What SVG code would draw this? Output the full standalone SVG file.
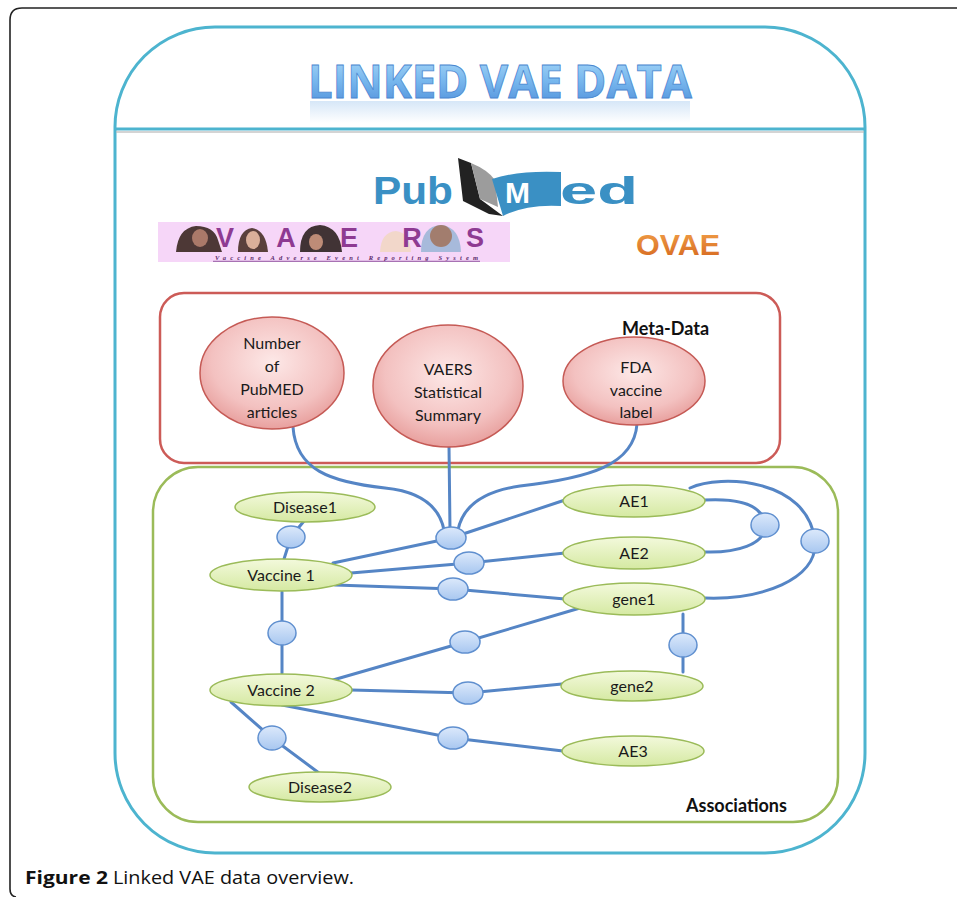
<svg xmlns="http://www.w3.org/2000/svg" width="957" height="897" viewBox="0 0 957 897">
<style>
.conn{fill:none;stroke:#5585c5;stroke-width:3;stroke-linecap:round;stroke-linejoin:round}
.hub{fill:url(#gBlue);stroke:#5f8fcf;stroke-width:1.5}
.green{fill:url(#gGreen);stroke:#9bbb59;stroke-width:1.5}
.pink{fill:url(#gPink);stroke:#c55a55;stroke-width:1.5}
.lbl{font-family:Lato,"Open Sans","Liberation Sans",sans-serif;font-size:16px;fill:#1a1a1a;text-anchor:middle}
.hdr{font-family:Lato,"Open Sans","Liberation Sans",sans-serif;font-size:18px;font-weight:bold;fill:#111}
.photo{opacity:0.9}
</style>
<defs>
<linearGradient id="gTitle" x1="0" y1="0" x2="0" y2="1">
<stop offset="0" stop-color="#b5e0fa"/><stop offset="0.5" stop-color="#78b8ee"/><stop offset="1" stop-color="#4a8ad8"/>
</linearGradient>
<linearGradient id="gRefl" x1="0" y1="0" x2="0" y2="1">
<stop offset="0" stop-color="#6aa6e4" stop-opacity="0.55"/><stop offset="1" stop-color="#6aa6e4" stop-opacity="0"/>
</linearGradient>
<radialGradient id="gPink" cx="0.5" cy="0.4" r="0.6">
<stop offset="0" stop-color="#fde8e7"/><stop offset="0.7" stop-color="#f3c1c0"/><stop offset="1" stop-color="#e8a09e"/>
</radialGradient>
<linearGradient id="gGreen" x1="0" y1="0" x2="0" y2="1">
<stop offset="0" stop-color="#f3f9dc"/><stop offset="1" stop-color="#d5e9a2"/>
</linearGradient>
<linearGradient id="gBlue" x1="0" y1="0" x2="0" y2="1">
<stop offset="0" stop-color="#dce9fb"/><stop offset="1" stop-color="#a8c7f0"/>
</linearGradient>
<linearGradient id="gOrange" x1="0" y1="0" x2="0" y2="1">
<stop offset="0" stop-color="#f3a24a"/><stop offset="1" stop-color="#d4661e"/>
</linearGradient>
</defs>

<g id="frame">
<path d="M957 8 H22 Q10 8 10 20 V889 Q10 896 16 897" fill="none" stroke="#222" stroke-width="1.6"/>
</g>

<g id="outer">
<rect x="115" y="27" width="750" height="826" rx="100" ry="100" fill="#fff" stroke="#4db4cf" stroke-width="3"/>
<line x1="116" y1="132" x2="864" y2="132" stroke="#b8b8b8" stroke-width="2" opacity="0.6"/>
<line x1="116" y1="129" x2="864" y2="129" stroke="#4db4cf" stroke-width="3"/>
</g>

<g id="title">
<rect x="310" y="101" width="380" height="22" fill="url(#gRefl)" opacity="0.5"/>
<text x="308" y="98" textLength="384" lengthAdjust="spacingAndGlyphs" font-family="'Open Sans',Lato,sans-serif" font-weight="bold" font-size="46" fill="url(#gTitle)" stroke="#4a86d0" stroke-width="0.8">LINKED VAE DATA</text>
</g>

<g id="pubmed">
<text x="373" y="204" textLength="80" lengthAdjust="spacingAndGlyphs" font-family="'Liberation Sans',Arial,sans-serif" font-weight="bold" font-size="38" fill="#3a90c4">Pub</text>
<path d="M458 158 L471 163 L480 199 L503 216 L489 214 L463 201 Z" fill="#222"/>
<path d="M471 163 Q488 170 495 180 L498 207 L480 199 Z" fill="#9c9c9c"/>
<path d="M492 179 Q520 170 561 172 L561 206 Q526 204 503 216 Z" fill="#3a90c4"/>
<text x="505" y="203" font-family="'Liberation Sans',Arial,sans-serif" font-weight="bold" font-size="30" fill="#fff">M</text>
<text x="560" y="204" textLength="78" lengthAdjust="spacingAndGlyphs" font-family="'Liberation Sans',Arial,sans-serif" font-weight="bold" font-size="38" fill="#3a90c4">ed</text>
</g>

<g id="vaers-logo">
<rect x="158" y="222" width="352" height="40" fill="#f6d6f8"/>
<g class="photo">
<path d="M176 252 Q178 228 196 226 Q214 226 218 240 L222 252 Z" fill="#3b2722"/>
<ellipse cx="200" cy="238" rx="8" ry="9" fill="#a2705a"/>
<path d="M238 252 Q238 230 252 228 Q266 230 268 252 Z" fill="#4a3028"/>
<ellipse cx="253" cy="240" rx="7" ry="9" fill="#d8ab90"/>
<path d="M300 252 Q300 226 320 225 Q340 227 342 252 Z" fill="#2e2220"/>
<ellipse cx="316" cy="242" rx="7" ry="8" fill="#b8846a"/>
<path d="M380 252 Q381 232 396 231 Q410 233 411 252 Z" fill="#f2d8c6"/>
<path d="M421 252 Q421 226 441 225 Q460 227 461 252 Z" fill="#9fb8d8"/>
<ellipse cx="441" cy="236" rx="11" ry="11" fill="#9a7460"/>
</g>
<text x="216" y="247" textLength="268" lengthAdjust="spacing" font-family="'Liberation Sans',Arial,sans-serif" font-weight="bold" font-size="27" fill="#8e3a92">VAERS</text>
<text x="215" y="260" textLength="263" lengthAdjust="spacing" font-family="'Liberation Serif',serif" font-style="italic" font-weight="bold" font-size="6.5" fill="#5a2a6a">Vaccine Adverse Event Reporting System</text>
<line x1="213" y1="261.3" x2="480" y2="261.3" stroke="#7a3a8a" stroke-width="0.8"/>
</g>

<g id="ovae">
<text x="636" y="255" textLength="84" lengthAdjust="spacingAndGlyphs" font-family="'Liberation Sans',Arial,sans-serif" font-weight="bold" font-size="30" fill="url(#gOrange)">OVAE</text>
</g>

<g id="meta-data">
<rect x="160" y="293" width="620" height="170" rx="24" fill="none" stroke="#cc5b57" stroke-width="2.5"/>
<text class="hdr" x="622" y="335">Meta-Data</text>
</g>

<g id="associations">
<rect x="153" y="467" width="685" height="355" rx="45" fill="none" stroke="#9bbb59" stroke-width="2.5"/>
<text class="hdr" x="686" y="812">Associations</text>
</g>

<g id="connectors">
<path class="conn" d="M293 427 C296 470 330 482 385 488 C425 492 440 510 444 530"/>
<path class="conn" d="M449 446 L450 530"/>
<path class="conn" d="M637 424 C634 465 590 478 520 486 C478 492 462 510 458 530"/>
<path class="conn" d="M333 563 L451 538 L565 500"/>
<path class="conn" d="M351 573 L469 563 L565 553"/>
<path class="conn" d="M335 585 L453 589 L565 599"/>
<path class="conn" d="M704 500 C740 498 763 505 765 525 C766 545 735 553 705 552"/>
<path class="conn" d="M690 488 C720 474 808 478 815 541 C818 580 760 600 705 598"/>
<path class="conn" d="M304 521 L291 537 L284 559"/>
<path class="conn" d="M282 592 L282 673"/>
<path class="conn" d="M333 680 L465 642 L580 608"/>
<path class="conn" d="M683 614 L683 672"/>
<path class="conn" d="M351 690 L468 693 L562 684"/>
<path class="conn" d="M231 702 L272 738 L319 773"/>
<path class="conn" d="M282 705 L453 738 L563 751"/>
</g>

<g id="hubs">
<ellipse id="h1" class="hub" cx="291" cy="537" rx="14" ry="11"/>
<ellipse id="h2" class="hub" cx="451" cy="538" rx="15" ry="11"/>
<ellipse id="h3" class="hub" cx="469" cy="563" rx="15" ry="11"/>
<ellipse id="h4" class="hub" cx="453" cy="589" rx="15" ry="11"/>
<ellipse id="h5" class="hub" cx="765" cy="525" rx="14" ry="12"/>
<ellipse id="h6" class="hub" cx="815" cy="541" rx="14" ry="12"/>
<ellipse id="h7" class="hub" cx="282" cy="633" rx="14" ry="12"/>
<ellipse id="h8" class="hub" cx="465" cy="642" rx="15" ry="11"/>
<ellipse id="h9" class="hub" cx="683" cy="645" rx="14" ry="12"/>
<ellipse id="h10" class="hub" cx="468" cy="693" rx="15" ry="11"/>
<ellipse id="h11" class="hub" cx="272" cy="738" rx="14" ry="12"/>
<ellipse id="h12" class="hub" cx="453" cy="738" rx="15" ry="11"/>
</g>

<g id="n-pubmed-count">
<ellipse class="pink" cx="272" cy="373" rx="72" ry="56"/>
<text class="lbl" x="272" y="349">Number</text>
<text class="lbl" x="272" y="372">of</text>
<text class="lbl" x="272" y="395">PubMED</text>
<text class="lbl" x="272" y="418">articles</text>
</g>
<g id="n-vaers-summary">
<ellipse class="pink" cx="448" cy="386" rx="75" ry="61"/>
<text class="lbl" x="448" y="375">VAERS</text>
<text class="lbl" x="448" y="398">Statistical</text>
<text class="lbl" x="448" y="421">Summary</text>
</g>
<g id="n-fda-label">
<ellipse class="pink" cx="634" cy="381" rx="71" ry="44"/>
<text class="lbl" x="636" y="373">FDA</text>
<text class="lbl" x="636" y="396">vaccine</text>
<text class="lbl" x="636" y="418">label</text>
</g>

<g id="n-disease1"><ellipse class="green" cx="305" cy="507" rx="70" ry="15"/><text class="lbl" x="305" y="513">Disease1</text></g>
<g id="n-vaccine1"><ellipse class="green" cx="281" cy="575" rx="71" ry="16"/><text class="lbl" x="281" y="581">Vaccine 1</text></g>
<g id="n-ae1"><ellipse class="green" cx="634" cy="501" rx="71" ry="16"/><text class="lbl" x="634" y="507">AE1</text></g>
<g id="n-ae2"><ellipse class="green" cx="634" cy="553" rx="71" ry="16"/><text class="lbl" x="634" y="559">AE2</text></g>
<g id="n-gene1"><ellipse class="green" cx="634" cy="599" rx="71" ry="16"/><text class="lbl" x="634" y="605">gene1</text></g>
<g id="n-vaccine2"><ellipse class="green" cx="281" cy="690" rx="71" ry="16"/><text class="lbl" x="281" y="696">Vaccine 2</text></g>
<g id="n-gene2"><ellipse class="green" cx="632" cy="686" rx="71" ry="15"/><text class="lbl" x="632" y="692">gene2</text></g>
<g id="n-ae3"><ellipse class="green" cx="633" cy="751" rx="71" ry="15"/><text class="lbl" x="633" y="757">AE3</text></g>
<g id="n-disease2"><ellipse class="green" cx="320" cy="787" rx="71" ry="15"/><text class="lbl" x="320" y="793">Disease2</text></g>

<g id="caption">
<text x="25" y="884" textLength="83" lengthAdjust="spacingAndGlyphs" font-family="'Open Sans',Lato,sans-serif" font-weight="bold" font-size="18" fill="#111">Figure 2</text>
<text x="113" y="884" textLength="241" lengthAdjust="spacingAndGlyphs" font-family="'Open Sans',Lato,sans-serif" font-size="18" fill="#111">Linked VAE data overview.</text>
</g>
</svg>
